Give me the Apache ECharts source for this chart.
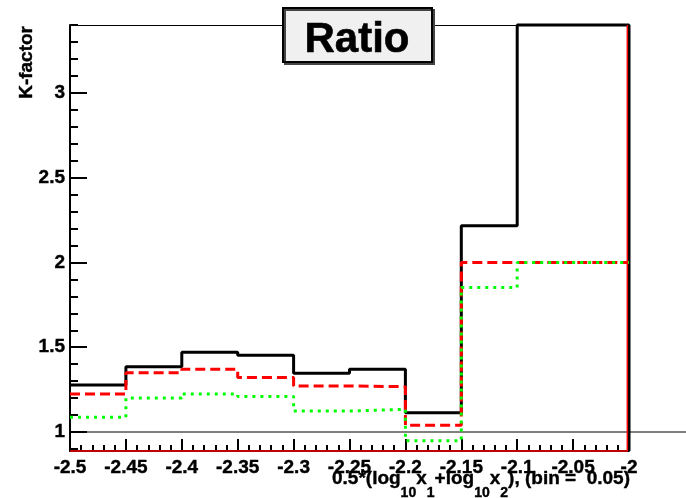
<!DOCTYPE html>
<html>
<head>
<meta charset="utf-8">
<script src="https://cdn.jsdelivr.net/npm/echarts@6/dist/echarts.min.js"></script>
<style>
  html, body { margin: 0; padding: 0; background: #fff; }
  #chart { width: 686px; height: 498px; }
</style>
</head>
<body>
<div id="chart"></div>
<script>
// bin edges of the histogram (bin = 0.05)
const binEdges = [-2.5, -2.45, -2.4, -2.35, -2.3, -2.25, -2.2, -2.15, -2.1, -2.05, -2];
// K-factor per bin, three curves
const kBlack = [1.277, 1.385, 1.470, 1.453, 1.346, 1.370, 1.114, 2.216, 3.40, 3.40];
const kRed   = [1.224, 1.350, 1.370, 1.321, 1.272, 1.267, 1.040, 2.000, 2.000, 2.000];
const kGreen = [1.087, 1.200, 1.224, 1.210, 1.124, 1.134, 0.949, 1.852, 2.000, 2.000];
// y axis
const yMin = 0.888;
const yMax = 3.40;
const yTicks = [1, 1.5, 2, 2.5, 3];
const yMinorTicks = [0.9, 1.0, 1.1, 1.2, 1.3, 1.4, 1.5, 1.6, 1.7, 1.8, 1.9, 2.0,
                     2.1, 2.2, 2.3, 2.4, 2.5, 2.6, 2.7, 2.8, 2.9, 3.0, 3.1, 3.2, 3.3, 3.4];
const refLine = 1;
// x title pieces, 1 = subscript
const xTitle = [['0.5*(log', 0], ['10', 1], ['x', 0], ['1', 1], ['+log', 0],
                ['10', 1], ['x', 0], ['2', 1], ['), (bin =  0.05)', 0]];

const FAM = 'Liberation Sans';
const MAIN = 19, SUB = 14;

// histogram outline as a step line
function steps(vals, drop) {
  const pts = [];
  vals.forEach((v, i) => {
    pts.push([binEdges[i], v]);
    pts.push([binEdges[i + 1], v]);
  });
  if (drop) pts.push([binEdges[binEdges.length - 1], yMin]);
  return pts;
}

const xFirst = binEdges[0];
const xLast = binEdges[binEdges.length - 1];

const chart = echarts.init(document.getElementById('chart'), null, { renderer: 'canvas' });

// slightly heavier than plain bold, like the ROOT output
const labelStyle = { color: '#000', fontSize: MAIN, fontWeight: 'bold', fontFamily: FAM,
                     textBorderColor: '#000', textBorderWidth: 0.4 };

const option = {
  animation: false,
  backgroundColor: '#fff',
  textStyle: { fontFamily: FAM, fontWeight: 'bold' },
  grid: { left: 70, right: 57, top: 25, bottom: 47, containLabel: false, outerBoundsMode: 'none' },
  xAxis: [
    {
      type: 'value', position: 'bottom',
      min: xFirst, max: xLast, interval: 0.05,
      axisLine: { onZero: false, lineStyle: { color: '#000', width: 2 } },
      axisTick: { inside: true, length: 12, lineStyle: { color: '#000', width: 2 } },
      minorTick: { show: true, splitNumber: 5, length: 6, lineStyle: { color: '#000', width: 2 } },
      axisLabel: Object.assign({}, labelStyle, {
        margin: 7, showMinLabel: true, showMaxLabel: true,
        formatter: v => String(+v.toFixed(2))
      }),
      splitLine: { show: false }, minorSplitLine: { show: false }
    },
    {
      type: 'value', position: 'top',
      min: xFirst, max: xLast,
      axisLine: { onZero: false, lineStyle: { color: '#000', width: 1 } },
      axisTick: { show: false }, axisLabel: { show: false }, splitLine: { show: false }
    }
  ],
  yAxis: [
    {
      type: 'value', position: 'left',
      min: yMin, max: yMax,
      axisLine: { show: true, onZero: false, lineStyle: { color: '#000', width: 2 } },
      axisTick: { show: true, inside: true, length: 17, customValues: yTicks, lineStyle: { color: '#000', width: 2 } },
      axisLabel: Object.assign({}, labelStyle, {
        margin: 5, customValues: yTicks, formatter: v => String(+v.toFixed(2))
      }),
      splitLine: { show: false }
    },
    {
      type: 'value', position: 'left',
      min: yMin, max: yMax,
      axisLine: { show: false },
      axisTick: { show: true, inside: true, length: 8, customValues: yMinorTicks, lineStyle: { color: '#000', width: 2 } },
      axisLabel: { show: false },
      splitLine: { show: false }
    }
  ],
  series: [
    {
      name: 'black', type: 'line', symbol: 'none', clip: false,
      data: steps(kBlack, true),
      lineStyle: { color: '#000', width: 3 }
    },
    {
      name: 'frame', type: 'line', symbol: 'none', silent: true, clip: false,
      data: [[xFirst, yMin], [xLast - 0.0015, yMin], [xLast - 0.0015, yMax]],
      lineStyle: { color: '#ff0000', width: 1.5 }
    },
    {
      name: 'red', type: 'line', symbol: 'none', clip: false,
      data: steps(kRed, false),
      lineStyle: { color: '#ff0000', width: 3, type: [10, 5] }
    },
    {
      name: 'green', type: 'line', symbol: 'none', clip: false,
      data: steps(kGreen, false),
      lineStyle: { color: '#00ff00', width: 3, type: [3, 5] }
    }
  ]
};

chart.setOption(option);

// thin line at K = 1, running past the frame to the right edge
const p0 = chart.convertToPixel({ gridIndex: 0 }, [xFirst, refLine]);

// x title with subscripts, laid out piece by piece, right aligned under the frame end
const ctx = document.createElement('canvas').getContext('2d');
function textWidth(t, size) {
  ctx.font = 'bold ' + size + 'px ' + FAM;
  return ctx.measureText(t).width;
}
const titleRight = 630;
let total = 0;
xTitle.forEach(p => { total += textWidth(p[0], p[1] ? SUB : MAIN); });
let cx = titleRight - total;
const titleEls = xTitle.map(p => {
  const size = p[1] ? SUB : MAIN;
  const el = {
    type: 'text', z: 101, x: cx, y: p[1] ? 493 : 479,
    style: { text: p[0], fill: '#000', font: 'bold ' + size + 'px ' + FAM,
             stroke: '#000', lineWidth: 0.4,
             align: 'left', verticalAlign: 'middle' }
  };
  cx += textWidth(p[0], size);
  return el;
});

chart.setOption({
  graphic: [
    {
      type: 'line', z: 1,
      shape: { x1: p0[0], y1: p0[1], x2: chart.getWidth(), y2: p0[1] },
      style: { stroke: '#000', lineWidth: 1 }
    },
    {
      type: 'rect', z: 100,
      shape: { x: 283, y: 8, width: 149, height: 54 },
      style: { fill: '#f0f0f0', stroke: '#000', lineWidth: 2,
               shadowColor: '#444', shadowOffsetX: 2, shadowOffsetY: 2, shadowBlur: 0 }
    },
    {
      type: 'text', z: 101, x: 357, y: 40,
      style: { text: 'Ratio', fill: '#000', font: 'bold 42px ' + FAM,
               stroke: '#000', lineWidth: 0.6,
               align: 'center', verticalAlign: 'middle' }
    },
    {
      type: 'text', z: 101, x: 27, y: 26, rotation: Math.PI / 2,
      style: { text: 'K-factor', fill: '#000', font: 'bold 19px ' + FAM,
               stroke: '#000', lineWidth: 0.4,
               align: 'right', verticalAlign: 'middle' }
    }
  ].concat(titleEls)
});
</script>
</body>
</html>
